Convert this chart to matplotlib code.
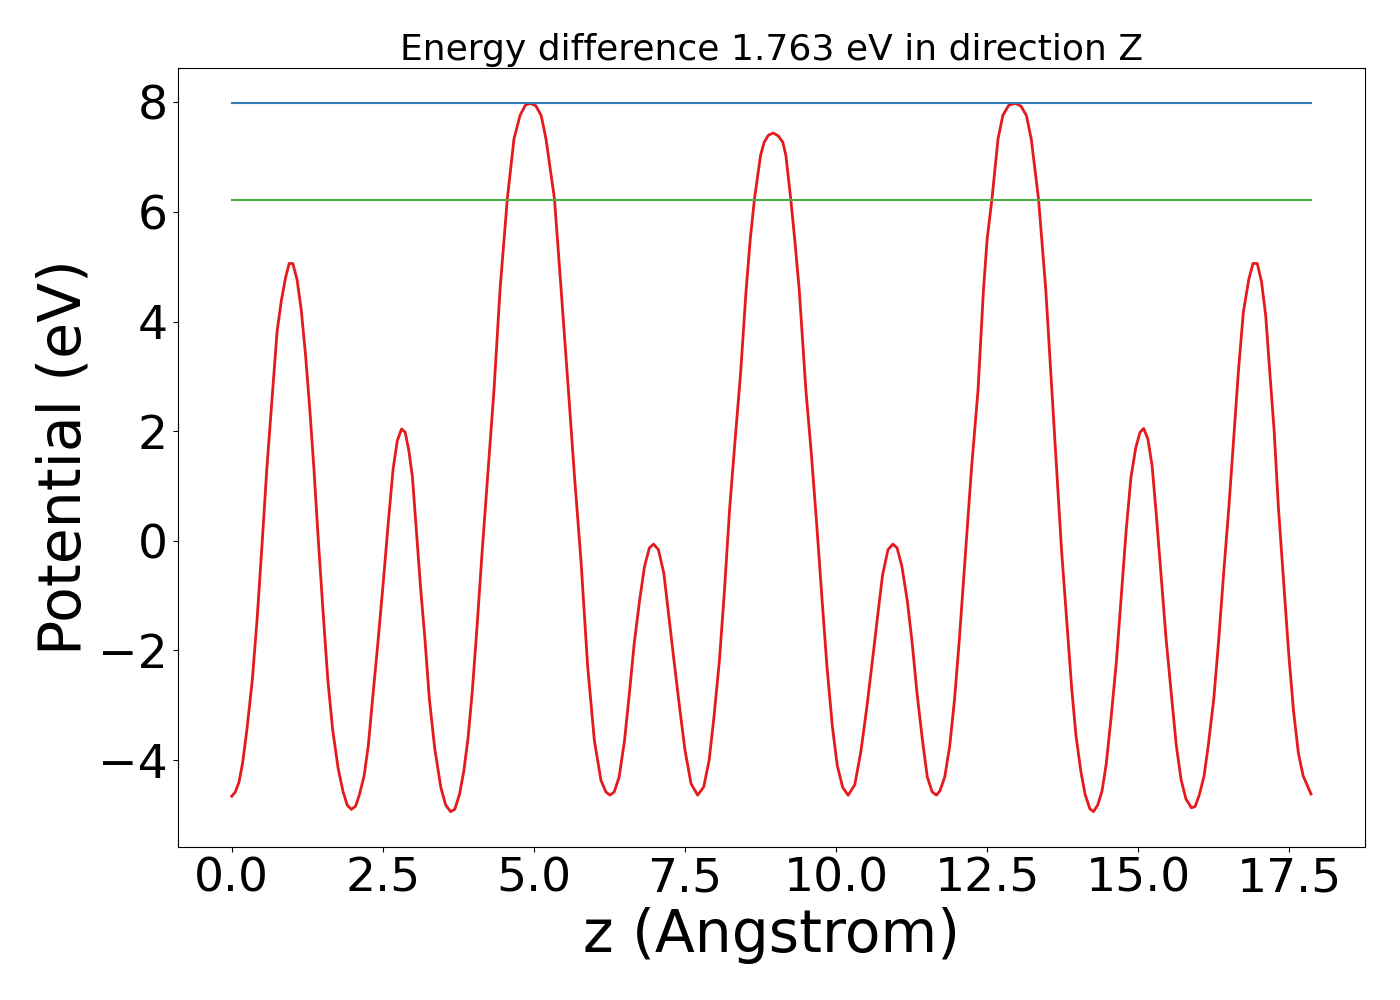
import matplotlib
matplotlib.use("Agg")
import matplotlib.pyplot as plt

# planar averaged potential along z
z = [
    0.00, 0.06, 0.12, 0.18, 0.25, 0.34, 0.42, 0.50, 0.58, 0.67, 0.75, 0.82, 0.89, 0.95,
    1.01, 1.08, 1.15, 1.22, 1.29, 1.36, 1.43, 1.51, 1.59, 1.67, 1.76, 1.84, 1.91, 1.98,
    2.05, 2.11, 2.19, 2.26, 2.33, 2.42, 2.51, 2.59, 2.67, 2.74, 2.81, 2.87, 2.93, 2.99,
    3.05, 3.12, 3.20, 3.27, 3.36, 3.46, 3.54, 3.62, 3.69,
    3.77, 3.84, 3.91, 3.98, 4.06, 4.14, 4.24, 4.34, 4.44, 4.56, 4.67, 4.77, 4.86, 4.94,
    5.03, 5.12, 5.20, 5.34, 5.45, 5.57, 5.67, 5.78, 5.89, 6.00, 6.11, 6.19,
    6.26, 6.33, 6.41, 6.50, 6.58, 6.66, 6.75, 6.83, 6.91, 6.98, 7.06, 7.15, 7.22, 7.31,
    7.41, 7.50, 7.60, 7.71,
    7.81, 7.90, 7.98, 8.07, 8.15, 8.24, 8.33, 8.42, 8.51, 8.58, 8.65, 8.75, 8.81, 8.88,
    8.96, 9.04, 9.12, 9.17, 9.25, 9.32, 9.39, 9.50, 9.59, 9.68, 9.77, 9.85, 9.94, 10.02,
    10.11, 10.20,
    10.31, 10.41, 10.51, 10.61, 10.70, 10.77, 10.86, 10.94, 11.01, 11.09, 11.18, 11.26,
    11.34, 11.43, 11.51, 11.59, 11.66,
    11.72, 11.80, 11.88, 11.96, 12.04, 12.13, 12.24, 12.35, 12.44, 12.50, 12.58, 12.68,
    12.76, 12.86, 12.97, 13.06, 13.15, 13.23, 13.35, 13.47, 13.57, 13.65, 13.73, 13.82,
    13.90, 13.97, 14.05, 14.12, 14.20, 14.26,
    14.33, 14.40, 14.47, 14.55, 14.64, 14.72, 14.80, 14.88, 14.96, 15.03, 15.09, 15.16,
    15.23, 15.30, 15.38, 15.46, 15.55, 15.63, 15.71, 15.79, 15.88,
    15.94, 16.01, 16.09, 16.16, 16.25, 16.33, 16.41, 16.50, 16.58, 16.66, 16.74, 16.83,
    16.90, 16.97, 17.04, 17.11, 17.17, 17.25, 17.32, 17.41, 17.49, 17.57, 17.65, 17.73,
    17.80, 17.86,
]

potential = [
    -4.66, -4.58, -4.40, -4.05, -3.45, -2.54, -1.42, -0.09, 1.31, 2.63, 3.82, 4.38, 4.80, 5.06,
    5.06, 4.77, 4.21, 3.40, 2.42, 1.31, 0.05, -1.28, -2.54, -3.45, -4.15, -4.57, -4.82, -4.90,
    -4.84, -4.64, -4.29, -3.73, -2.89, -1.84, -0.72, 0.33, 1.31, 1.83, 2.04, 1.98, 1.65, 1.16,
    0.26, -0.79, -1.84, -2.89, -3.80, -4.50, -4.82, -4.94, -4.90,
    -4.62, -4.20, -3.60, -2.75, -1.55, -0.25, 1.25, 2.76, 4.59, 6.24, 7.33, 7.76, 7.95, 7.98,
    7.94, 7.76, 7.33, 6.24, 4.59, 2.76, 1.20, -0.38, -2.30, -3.64, -4.37, -4.58,
    -4.64, -4.58, -4.31, -3.64, -2.78, -1.87, -1.08, -0.47, -0.13, -0.06, -0.16, -0.59, -1.26, -2.11,
    -3.03, -3.82, -4.43, -4.64,
    -4.49, -4.00, -3.21, -2.18, -0.96, 0.60, 1.85, 3.05, 4.55, 5.50, 6.24, 7.03, 7.27, 7.40,
    7.44, 7.39, 7.27, 7.03, 6.24, 5.45, 4.59, 2.76, 1.60, 0.30, -1.10, -2.30, -3.40, -4.10,
    -4.50, -4.64,
    -4.45, -3.85, -3.03, -2.11, -1.26, -0.62, -0.16, -0.06, -0.13, -0.47, -1.10, -1.87,
    -2.78, -3.64, -4.31, -4.58, -4.64,
    -4.56, -4.30, -3.75, -2.90, -1.80, -0.40, 1.30, 2.76, 4.59, 5.50, 6.24, 7.33,
    7.76, 7.95, 7.98, 7.93, 7.76, 7.33, 6.24, 4.59, 2.76, 1.30, -0.15, -1.50,
    -2.70, -3.55, -4.20, -4.62, -4.89, -4.94,
    -4.82, -4.57, -4.08, -3.24, -2.19, -1.00, 0.18, 1.16, 1.70, 1.98, 2.05, 1.86,
    1.37, 0.47, -0.65, -1.77, -2.82, -3.73, -4.36, -4.71, -4.87,
    -4.85, -4.64, -4.29, -3.73, -2.89, -1.84, -0.65, 0.61, 1.86, 3.12, 4.17, 4.77,
    5.06, 5.06, 4.73, 4.11, 3.19, 2.00, 0.61, -0.79, -2.05, -3.10, -3.87, -4.29,
    -4.47, -4.62,
]

# the two reference levels (eV)
E_HIGH = 7.980
E_LOW = 6.217
DIRECTION = "Z"

RED = "#e41a1c"
BLUE = "#377eb8"
GREEN = "#4daf4a"

fig, ax = plt.subplots(figsize=(14, 10), dpi=100)
fig.subplots_adjust(left=0.127, right=0.975, bottom=0.153, top=0.932)

ax.plot(z, potential, color=RED, lw=2)
ax.plot([z[0], z[-1]], [E_HIGH, E_HIGH], color=BLUE, lw=1.5)
ax.plot([z[0], z[-1]], [E_LOW, E_LOW], color=GREEN, lw=1.5)

ax.set_title(f"Energy difference {E_HIGH - E_LOW:.3f} eV in direction {DIRECTION}", fontsize=26)
ax.set_xlabel("z (Angstrom)", fontsize=42)
ax.set_ylabel("Potential (eV)", fontsize=42)
ax.tick_params(labelsize=34)

fig.savefig("out.png", dpi=100)
